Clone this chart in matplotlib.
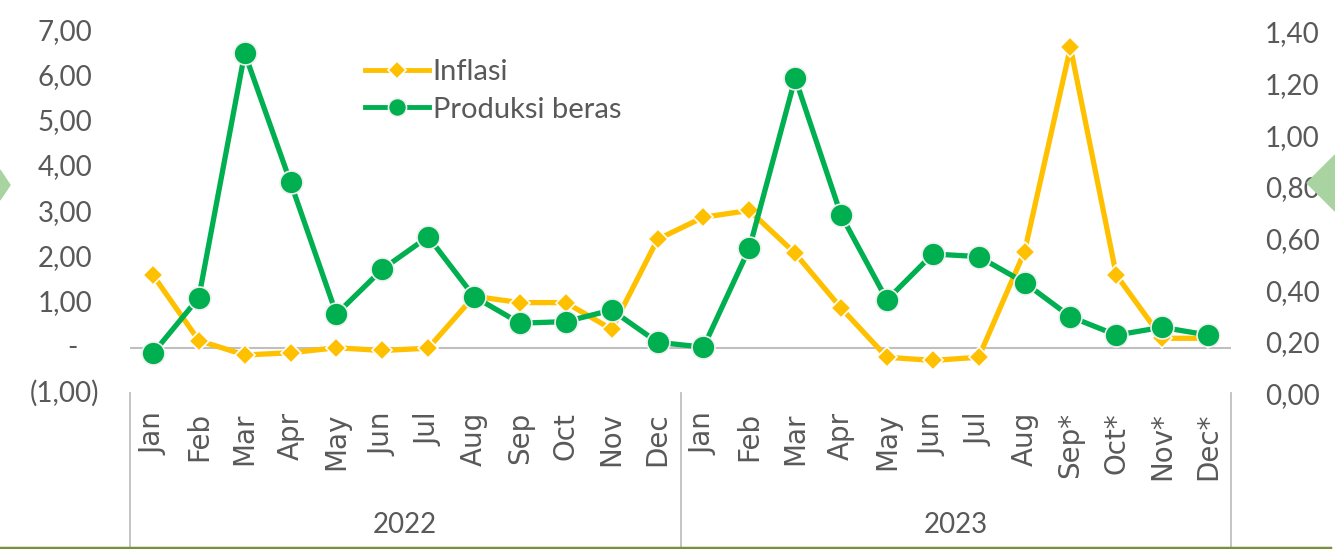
import matplotlib
matplotlib.use("Agg")
import matplotlib.pyplot as plt
from matplotlib.patches import Polygon
from matplotlib.lines import Line2D

# data
bulan = ["Jan", "Feb", "Mar", "Apr", "May", "Jun", "Jul", "Aug", "Sep", "Oct", "Nov", "Dec",
         "Jan", "Feb", "Mar", "Apr", "May", "Jun", "Jul", "Aug", "Sep*", "Oct*", "Nov*", "Dec*"]
tahun = ["2022", "2023"]
inflasi = [1.62, 0.17, -0.15, -0.10, 0.01, -0.05, 0.00, 1.15, 1.01, 1.01, 0.42, 2.41,
           2.90, 3.05, 2.10, 0.89, -0.20, -0.27, -0.20, 2.14, 6.66, 1.62, 0.22, 0.22]
produksi = [0.155, 0.371, 1.318, 0.817, 0.307, 0.481, 0.607, 0.375, 0.272, 0.278, 0.323, 0.198,
            0.179, 0.562, 1.221, 0.691, 0.362, 0.540, 0.530, 0.429, 0.297, 0.226, 0.256, 0.226]
kiri_ticks = [-1, 0, 1, 2, 3, 4, 5, 6, 7]
kiri_labels = ["(1,00)", "-", "1,00", "2,00", "3,00", "4,00", "5,00", "6,00", "7,00"]
kanan_ticks = [0.0, 0.2, 0.4, 0.6, 0.8, 1.0, 1.2, 1.4]

KUNING = "#FFC000"
HIJAU = "#00B050"
ABU = "#595959"
FONT = "Lato"

W, H = 1335, 549
fig = plt.figure(figsize=(W / 100, H / 100), dpi=100)
ax = fig.add_axes([130 / W, 1 - 393.4 / H, 1101 / W, 361.4 / H])
ax2 = ax.twinx()

x = list(range(len(bulan)))

ax.plot(x, inflasi, color=KUNING, lw=3.8, marker="D", ms=10.5,
        mfc=KUNING, mec="white", mew=1.2, zorder=3, label="Inflasi")
ax2.plot(x, produksi, color=HIJAU, lw=3.8, marker="o", ms=16.5,
         mfc=HIJAU, mec="#f0f0f0", mew=1.2, zorder=3, label="Produksi beras")

ax.set_xlim(-0.5, len(bulan) - 0.5)
ax.set_ylim(-1, 7)
ax2.set_ylim(0, 1.4)

ax.axhline(0, color="#BFBFBF", lw=1.5, zorder=1)

for a in (ax, ax2):
    for s in a.spines.values():
        s.set_visible(False)

# sumbu kiri: label manual (format akuntansi)
ax.set_yticks(kiri_ticks)
ax.tick_params(axis="y", left=False, labelleft=False)
geser = {"-": -52, "(1,00)": -31}
for t, lab in zip(kiri_ticks, kiri_labels):
    ax.annotate(lab, xy=(0, t), xycoords=("axes fraction", "data"),
                xytext=(geser.get(lab, -38), 0), textcoords="offset pixels",
                ha="right", va="center", fontsize=20, color=ABU, family=FONT)

# sumbu kanan
ax2.set_yticks(kanan_ticks)
ax2.set_yticklabels([f"{v:.2f}".replace(".", ",") for v in kanan_ticks])
ax2.tick_params(axis="y", right=False, pad=21, labelsize=20, labelcolor=ABU)
for lab in ax2.get_yticklabels():
    lab.set_family(FONT)

# sumbu x
ax.set_xticks(x)
ax.set_xticklabels(bulan, rotation=90, va="top", ha="center")
ax.tick_params(axis="x", bottom=False, pad=10, labelsize=20, labelcolor=ABU)
for lab in ax.get_xticklabels():
    lab.set_fontfamily("DejaVu Sans")

n = len(bulan) // len(tahun)
trans = ax.get_xaxis_transform()
for i, th in enumerate(tahun):
    ax.annotate(th, xy=(i * n + (n - 1) / 2, 0), xycoords=trans,
                xytext=(0, -132), textcoords="offset pixels",
                ha="center", va="center", fontsize=20, color=ABU, family=FONT)
for xs in [-0.5 + i * n for i in range(len(tahun) + 1)]:
    ax.plot([xs, xs], [0, -0.43], transform=trans, color="#BFBFBF", lw=1.3,
            clip_on=False)

# legenda
h1 = Line2D([], [], color=KUNING, lw=3.5, marker="D", ms=9, mfc=KUNING, mec="white", mew=1.2)
h2 = Line2D([], [], color=HIJAU, lw=3.5, marker="o", ms=13, mfc=HIJAU, mec="#f0f0f0", mew=1.2)
leg = fig.legend([h1, h2], ["Inflasi", "Produksi beras"], loc="upper left",
                 bbox_to_anchor=(365 / W, 1 - 59 / H), frameon=False,
                 handlelength=2.2, handletextpad=0.12, labelspacing=0.4,
                 borderpad=0, borderaxespad=0,
                 prop={"family": FONT, "size": 21})
for t in leg.get_texts():
    t.set_color(ABU)

# hiasan: segitiga hijau & garis bawah
def px(xp, yp):
    return (xp / W, 1 - yp / H)

fig.patches.append(Polygon([px(0, 170), px(10, 185), px(0, 200)], closed=True,
                           transform=fig.transFigure, color="#A9D3A0", zorder=0))
fig.patches.append(Polygon([px(1335, 155), px(1307, 183), px(1335, 211)], closed=True,
                           transform=fig.transFigure, color="#A9D3A0", zorder=0))
fig.add_artist(Line2D([0, 1330 / W], [1 - 547.5 / H] * 2, transform=fig.transFigure,
                      color="#76923C", lw=2.5))

fig.savefig("out.png", dpi=100)
